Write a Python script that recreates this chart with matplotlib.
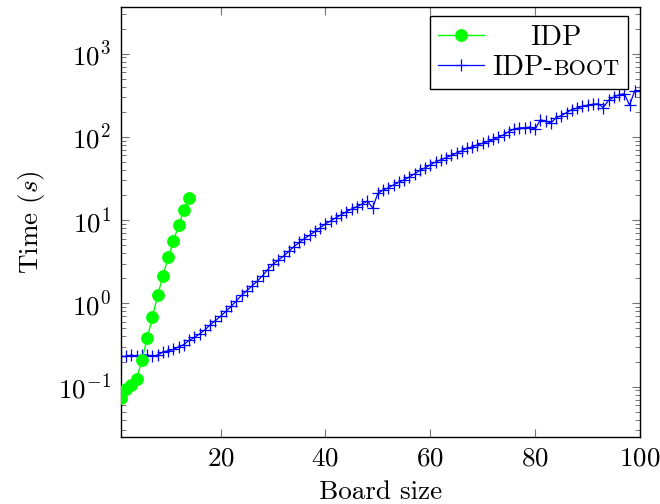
import numpy as np
import matplotlib
matplotlib.use("Agg")
import matplotlib.pyplot as plt
from matplotlib.offsetbox import TextArea, HPacker, DrawingArea

plt.rcParams['font.family'] = 'serif'
plt.rcParams['font.serif'] = ['cmr10']
plt.rcParams['mathtext.fontset'] = 'cm'
plt.rcParams['axes.formatter.use_mathtext'] = True

# board size vs. run time (s)
idp_x = list(range(1, 15))
idp_t = [0.073, 0.094, 0.106, 0.124, 0.21, 0.38, 0.68, 1.26, 2.13, 3.58,
         5.6, 8.7, 13.2, 18.2]

boot_x = list(range(1, 101))
boot_t = [0.23, 0.23, 0.24, 0.23, 0.24, 0.24, 0.23, 0.24, 0.26, 0.27,
          0.28, 0.30, 0.32, 0.36, 0.39, 0.43, 0.48, 0.55, 0.62, 0.70,
          0.80, 0.92, 1.07, 1.25, 1.42, 1.62, 1.85, 2.15, 2.55, 2.95,
          3.3, 3.7, 4.2, 4.8, 5.4, 6.0, 6.6, 7.3, 8.1, 9.0,
          9.8, 10.7, 11.6, 12.6, 13.6, 14.5, 15.6, 17.0, 14.0, 21.0,
          23.0, 24.5, 26.5, 28.5, 30.5, 33.0, 36.0, 39.5, 42.5, 46.0,
          50.0, 53.0, 56.0, 60.0, 64.0, 68.0, 73.0, 76.0, 80.0, 84.0,
          88.0, 93.0, 99.0, 106.0, 116.0, 124.0, 128.0, 129.0, 131.0, 124.0,
          160.0, 155.0, 147.0, 170.0, 180.0, 196.0, 212.0, 222.0, 232.0, 240.0,
          246.0, 250.0, 225.0, 275.0, 300.0, 320.0, 330.0, 240.0, 360.0, 360.0]

fs = 19.5
lfs = 20.5

fig = plt.figure(figsize=(6.6, 5.04), dpi=100)
ax = fig.add_axes([0.1833, 0.1329, 0.7864, 0.8526])

ax.plot(idp_x, idp_t, color='#00ff00', lw=1.0, marker='o', ms=8.2,
        label='IDP', zorder=3)
ax.plot(boot_x, boot_t, color='#0000ff', lw=0.9, marker='+', ms=8,
        mew=0.9, label='IDP-boot', zorder=2)

ax.set_yscale('log')
ax.set_xlim(1, 100)
ax.set_ylim(0.0248, 3600)
ax.set_xticks([20, 40, 60, 80, 100])

ax.tick_params(which='both', direction='in', top=True, right=True,
               labelsize=fs, color='0.45')
ax.tick_params(which='major', length=6, width=0.8, pad=7)
ax.tick_params(which='minor', length=3.5, width=0.7)
for s in ax.spines.values():
    s.set_linewidth(1.0)

ax.set_xlabel('Board size', fontsize=fs, labelpad=7)
ax.set_ylabel('Time ($s$)', fontsize=fs, labelpad=8)

leg = ax.legend(loc='upper right', bbox_to_anchor=(0.977, 0.98),
                borderaxespad=0, fontsize=lfs, fancybox=False,
                framealpha=1, edgecolor='black', handlelength=1.6,
                borderpad=0.3, labelspacing=0.12, handletextpad=0.3)
leg.get_frame().set_linewidth(1.0)

# small caps "boot" and centred entries, like the pgfplots legend
fig.canvas.draw()
renderer = fig.canvas.get_renderer()
rows = []
for col in leg._legend_handle_box.get_children():
    rows.extend(col.get_children())
boot_box = HPacker(children=[TextArea('IDP-', textprops=dict(fontsize=lfs)),
                             TextArea('BOOT', textprops=dict(fontsize=lfs * 0.78))],
                   pad=0, sep=0, align='baseline')
idp_ta = TextArea('IDP', textprops=dict(fontsize=lfs))
boot_box.set_figure(fig)
idp_ta.set_figure(fig)
w_boot = boot_box.get_bbox(renderer).width
w_idp = idp_ta.get_bbox(renderer).width
gap = (w_boot - w_idp) / 2 * 72 / fig.dpi
idp_box = HPacker(children=[DrawingArea(gap, 0.1), idp_ta],
                  pad=0, sep=0, align='baseline')
idp_box.set_figure(fig)
for row in rows:
    kids = row.get_children()
    txt = kids[1].get_text()
    if txt == 'IDP':
        row._children[1] = idp_box
    elif txt == 'IDP-boot':
        row._children[1] = boot_box

fig.savefig('out.png', dpi=100)
